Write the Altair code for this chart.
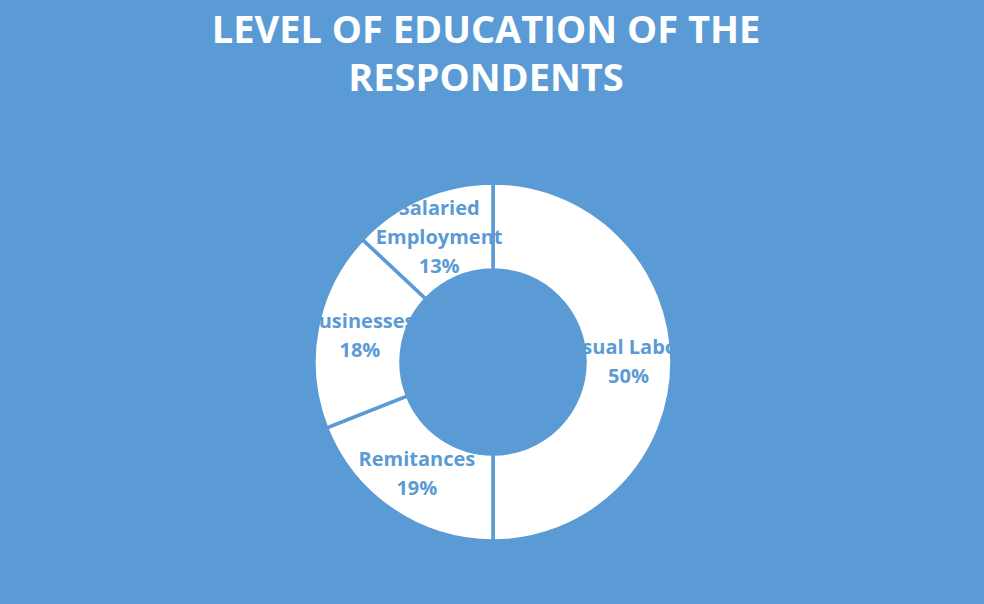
import altair as alt
import pandas as pd

categories = ["Casual Labour", "Remitances", "Businesses", "Salaried\nEmployment"]
shares = [50, 19, 18, 13]
title_lines = ["LEVEL OF EDUCATION OF THE", "RESPONDENTS"]

BG = "#5B9BD5"
LINE_H = 29

df = pd.DataFrame({
    "category": categories,
    "share": shares,
    "idx": list(range(len(categories))),
})
df["label"] = [f"{c}\n{s}%" for c, s in zip(categories, shares)]
df["nlines"] = df["label"].str.count("\n") + 1

base = alt.Chart(df).encode(
    theta=alt.Theta("share:Q", stack=True),
    order=alt.Order("idx:Q"),
    x=alt.value(493),
    y=alt.value(362),
)

arcs = base.mark_arc(
    innerRadius=92, outerRadius=179, fill="white", stroke=BG, strokeWidth=3.5
)

label_layers = []
for n in sorted(df["nlines"].unique()):
    lay = base.mark_text(
        radius=135.5, font="Open Sans", fontWeight="bold", fontSize=20,
        color=BG, lineBreak="\n", lineHeight=LINE_H, align="center",
        baseline="middle", dy=-(int(n) - 1) * LINE_H / 2,
    ).encode(
        text="label:N",
        opacity=alt.condition(f"datum.nlines == {int(n)}", alt.value(1), alt.value(0)),
    )
    label_layers.append(lay)

title = alt.Chart(pd.DataFrame({"t": ["\n".join(title_lines)]})).mark_text(
    font="Open Sans", fontWeight="bold", fontSize=38, color="white",
    lineBreak="\n", lineHeight=48, align="center", baseline="alphabetic"
).encode(text="t:N", x=alt.value(486), y=alt.value(43))

chart = alt.layer(arcs, *label_layers, title).properties(
    width=984, height=604, background=BG, padding=0,
    autosize=alt.AutoSizeParams(type="none"),
).configure_view(stroke=None, fill=BG)

chart.save("out.html", embed_options={"renderer": "svg", "actions": False})
